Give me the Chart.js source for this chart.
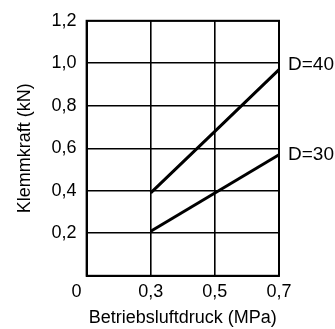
<!DOCTYPE html>
<html><head><meta charset="utf-8">
<script src="https://cdn.jsdelivr.net/npm/chart.js@4/dist/chart.umd.min.js"></script>
<style>html,body{margin:0;padding:0;background:#fff;}canvas{display:block;}</style>
</head><body>
<canvas id="c" width="335" height="329"></canvas>
<script>
const categories = ['0    ', '0,3', '0,5', '0,7'];
const seriesNames = ['D=40', 'D=30'];
const d40 = [null, 0.39, 0.68, 0.97];
const d30 = [null, 0.21, 0.39, 0.57];
const yTicks = [0, 0.2, 0.4, 0.6, 0.8, 1.0, 1.2];
const xTitle = 'Betriebsluftdruck (MPa)';
const yTitle = 'Klemmkraft (kN)';

const FONT = "'Liberation Sans', Arial, sans-serif";

const endLabels = {
  id: 'endLabels',
  afterDatasetsDraw(chart) {
    const ctx = chart.ctx;
    ctx.save();
    ctx.font = '19px ' + FONT;
    ctx.fillStyle = '#000';
    ctx.textBaseline = 'middle';
    ctx.textAlign = 'left';
    const offs = [-5, 0];
    chart.data.datasets.forEach((ds, i) => {
      const meta = chart.getDatasetMeta(i);
      const pt = meta.data[meta.data.length - 1];
      ctx.fillText(seriesNames[i], pt.x + 9, pt.y + offs[i]);
    });
    ctx.restore();
  }
};

new Chart(document.getElementById('c'), {
  type: 'line',
  data: {
    labels: categories,
    datasets: [
      { label: seriesNames[0], data: d40, borderColor: '#000', borderWidth: 3, pointRadius: 0, tension: 0, fill: false },
      { label: seriesNames[1], data: d30, borderColor: '#000', borderWidth: 3, pointRadius: 0, tension: 0, fill: false }
    ]
  },
  options: {
    responsive: false,
    animation: false,
    layout: { padding: { left: 8, right: 56, top: 2, bottom: 0 } },
    plugins: { legend: { display: false }, tooltip: { enabled: false } },
    scales: {
      x: {
        type: 'category',
        offset: false,
        border: { display: true, color: '#000', width: 2 },
        grid: { color: '#000', lineWidth: 1.6, drawTicks: false },
        ticks: { color: '#000', font: { family: FONT, size: 18 }, padding: 5, maxRotation: 0, autoSkip: false },
        title: { display: true, text: xTitle, color: '#000', font: { family: FONT, size: 18 }, padding: { top: 0, bottom: 0 } }
      },
      y: {
        min: 0, max: 1.2,
        afterBuildTicks(scale) { scale.ticks = yTicks.map(v => ({ value: v })); },
        border: { display: true, color: '#000', width: 2 },
        grid: { color: '#000', lineWidth: 1.6, drawTicks: false },
        ticks: {
          color: '#000', font: { family: FONT, size: 18 }, padding: 10,
          callback: (v) => v === 0 ? '' : v.toFixed(1).replace('.', ',')
        },
        title: { display: true, text: yTitle, color: '#000', font: { family: FONT, size: 18 }, padding: { top: 6, bottom: 6 } }
      }
    }
  },
  plugins: [endLabels, {
    id: 'frame',
    afterDraw(chart) {
      const a = chart.chartArea, ctx = chart.ctx;
      ctx.save(); ctx.strokeStyle = '#000'; ctx.lineWidth = 2;
      ctx.strokeRect(a.left, a.top, a.right - a.left, a.bottom - a.top);
      ctx.restore();
    }
  }]
});
</script>
</body></html>
